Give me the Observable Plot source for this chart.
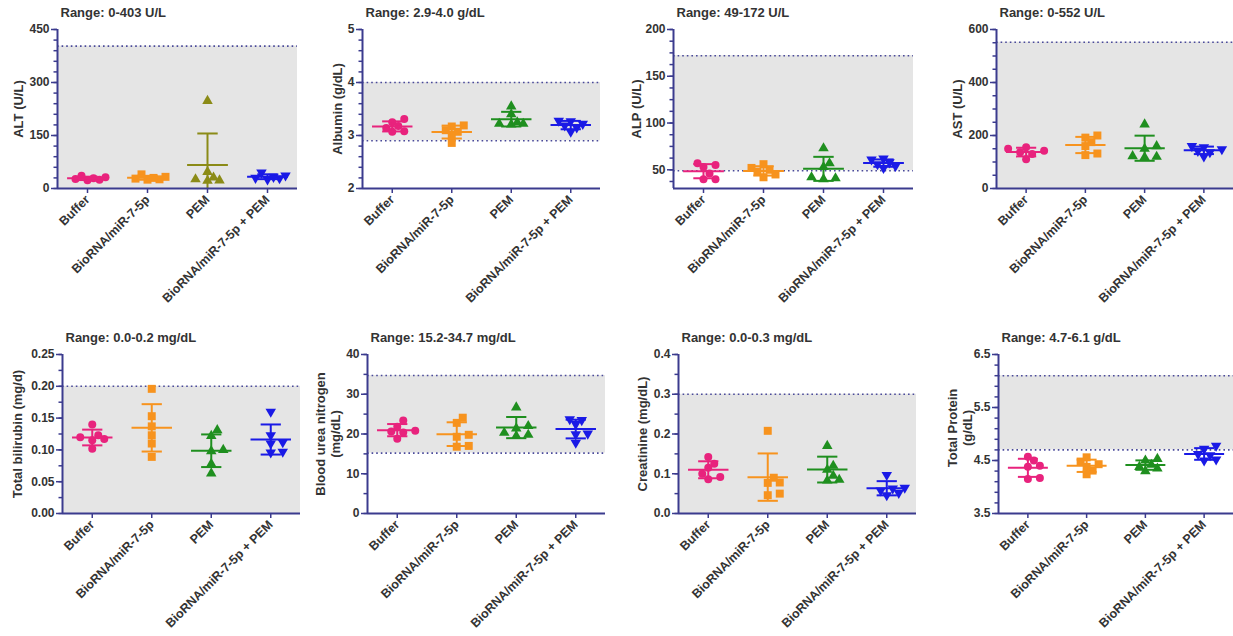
<!DOCTYPE html>
<html><head><meta charset="utf-8">
<script src="https://cdn.jsdelivr.net/npm/d3@7"></script>
<script src="https://cdn.jsdelivr.net/npm/@observablehq/plot@0.6"></script>
<style>
body{margin:0;background:#fff;font-family:"Liberation Sans",Arial,sans-serif;}
#root{position:relative;width:1233px;height:636px;overflow:hidden;background:#fff;}
.panel{position:absolute;}
.panel svg{overflow:visible;}
</style></head><body><div id="root"></div>
<script>
// ---------- data ----------
const groups = ["Buffer", "BioRNA/miR-7-5p", "PEM", "BioRNA/miR-7-5p + PEM"];

const altValues = [[36, 32, 29, 27, 25, 23], [40, 33, 30, 28, 26, 25], [248, 47, 31, 26, 23, 22], [45, 37, 33, 30, 29, 26]];
const albuminValues = [[3.31, 3.25, 3.18, 3.14, 3.08, 3.07], [3.19, 3.17, 3.10, 3.07, 3.00, 2.86], [3.55, 3.40, 3.25, 3.22, 3.21, 3.22], [3.28, 3.27, 3.22, 3.19, 3.15, 3.07]];
const alpValues = [[57, 55, 53, 46, 40, 40], [56, 52, 50, 48, 45, 42], [73, 57, 53, 42, 40, 41], [62, 61, 58, 56, 54, 52]];
const astValues = [[156, 150, 142, 137, 130, 110], [200, 192, 175, 160, 132, 126], [242, 160, 150, 120, 118, 122], [160, 156, 148, 142, 137, 121]];
const bilirubinValues = [[0.14, 0.123, 0.12, 0.117, 0.115, 0.102], [0.196, 0.153, 0.137, 0.123, 0.11, 0.089], [0.131, 0.122, 0.1, 0.098, 0.078, 0.063], [0.16, 0.123, 0.112, 0.11, 0.097, 0.096]];
const bunValues = [[23.4, 21.8, 20.8, 20.6, 20.4, 18.8], [24.1, 22.8, 19.8, 19.3, 17.0, 16.8], [26.7, 22, 21.4, 20.3, 19.8, 19.5], [23.7, 23.5, 22.5, 20.1, 19.9, 17.8]];
const creatinineValues = [[0.142, 0.125, 0.115, 0.1, 0.092, 0.086], [0.208, 0.09, 0.078, 0.077, 0.05, 0.046], [0.17, 0.12, 0.11, 0.095, 0.085, 0.083], [0.097, 0.065, 0.063, 0.058, 0.052, 0.046]];
const proteinValues = [[4.57, 4.5, 4.4, 4.38, 4.17, 4.15], [4.56, 4.48, 4.43, 4.38, 4.31, 4.24], [4.53, 4.5, 4.42, 4.38, 4.35, 4.3], [4.78, 4.72, 4.62, 4.6, 4.52, 4.5]];

const panelTitles = ["Range: 0-403 U/L", "Range: 2.9-4.0 g/dL", "Range: 49-172 U/L", "Range: 0-552 U/L",
  "Range: 0.0-0.2 mg/dL", "Range: 15.2-34.7 mg/dL", "Range: 0.0-0.3 mg/dL", "Range: 4.7-6.1 g/dL"];
const yLabels = ["ALT (U/L)", "Albumin (g/dL)", "ALP (U/L)", "AST (U/L)",
  "Total bilirubin (mg/d)", "Blood urea nitrogen\n(mg/dL)", "Creatinine (mg/dL)", "Total Protein\n(g/dL)"];
const normalLow = [0, 2.9, 49, 0, 0, 15.2, 0, 4.7];
const normalHigh = [403, 4.0, 172, 552, 0.2, 34.7, 0.3, 6.1];
const yDomains = [[0, 450], [2, 5], [30, 200], [0, 600], [0, 0.25], [0, 40], [0, 0.4], [3.5, 6.5]];
const majorTicks = [[0, 150, 300, 450], [2, 3, 4, 5], [50, 100, 150, 200], [0, 200, 400, 600],
  [0, 0.05, 0.10, 0.15, 0.20, 0.25], [0, 10, 20, 30, 40], [0, 0.1, 0.2, 0.3, 0.4], [3.5, 4.5, 5.5, 6.5]];
const minorSteps = [30, 0.2, 12.5, 50, 0.025, 5, 0.05, 0.2];
const tickFormats = ["d", "d", "d", "d", ".2f", "d", ".1f", ".1f"];
const allValues = [altValues, albuminValues, alpValues, astValues, bilirubinValues, bunValues, creatinineValues, proteinValues];

// ---------- styles / layout ----------
const groupColors = ["#e8237d", "#f7931e", "#1f8f1f", "#1a1ae6"];
const altPemColor = "#8b8b17";
const navy = "#3b3b8e";
const textColor = "#333";
const font = "Liberation Sans, Arial, sans-serif";

const layout = [
  {left: 0,   top: 0,   w: 310, h: 318, axisX: 57,  right: 297,  fTop: 29,  fBot: 188, lDx: -39, lDy: 0},
  {left: 310, top: 0,   w: 310, h: 318, axisX: 362, right: 600,  fTop: 29,  fBot: 188, lDx: -25, lDy: 0},
  {left: 620, top: 0,   w: 310, h: 318, axisX: 673, right: 913,  fTop: 29,  fBot: 188, lDx: -37, lDy: 0},
  {left: 930, top: 0,   w: 303, h: 318, axisX: 996, right: 1233, fTop: 29,  fBot: 188, lDx: -39, lDy: 0},
  {left: 0,   top: 318, w: 310, h: 318, axisX: 62,  right: 300,  fTop: 354, fBot: 513, lDx: -45, lDy: 0},
  {left: 310, top: 318, w: 310, h: 318, axisX: 367, right: 605,  fTop: 354, fBot: 513, lDx: -40, lDy: 0},
  {left: 620, top: 318, w: 310, h: 318, axisX: 678, right: 916,  fTop: 354, fBot: 513, lDx: -36, lDy: 0},
  {left: 930, top: 318, w: 303, h: 318, axisX: 998, right: 1233, fTop: 354, fBot: 513, lDx: -39, lDy: -6}
];

const triangleDown = {
  draw(context, size) {
    const y = Math.sqrt(size / (Math.sqrt(3) * 3));
    context.moveTo(0, y * 2);
    context.lineTo(-Math.sqrt(3) * y, -y);
    context.lineTo(Math.sqrt(3) * y, -y);
    context.closePath();
  }
};
const symbols = ["circle", "square", "triangle", triangleDown];
const symbolR = [4, 4.5, 3.9, 3.9];

// beeswarm-like horizontal spreading (pixels), limited to +/- maxK steps
function swarm(vals, pxY, diam, step, maxK) {
  const order = d3.range(vals.length).sort((a, b) => vals[a] - vals[b]);
  const placed = [];
  const off = new Array(vals.length).fill(0);
  for (const i of order) {
    const y = vals[i] * pxY;
    let best = 0, bestD = -1, done = false;
    for (let k = 0; k <= 2 * maxK; k++) {
      const dx = k === 0 ? 0 : (k % 2 ? 1 : -1) * Math.ceil(k / 2) * step;
      const dmin = placed.length ? d3.min(placed, p => Math.hypot(p.x - dx, p.y - y)) : Infinity;
      if (dmin >= diam) { off[i] = dx; done = true; break; }
      if (dmin > bestD) { bestD = dmin; best = dx; }
    }
    if (!done) off[i] = best;
    placed.push({x: off[i], y});
  }
  return off;
}

const root = document.getElementById("root");

allValues.forEach((values, p) => {
  const L = layout[p];
  const [y0, y1] = yDomains[p];
  const pxY = (L.fBot - L.fTop) / (y1 - y0);
  const pxCat = (L.right - L.axisX) / 4;
  const fmt = d3.format(tickFormats[p]);
  const step = minorSteps[p];
  const minors = [];
  const m0 = majorTicks[p][0];
  for (let v = m0; v <= y1 + 1e-9; v += step) minors.push(+v.toFixed(6));
  for (let v = m0 - step; v >= y0 - 1e-9; v -= step) minors.push(+v.toFixed(6));

  const marks = [];
  // normal range shading
  marks.push(Plot.rect([0], {x1: -0.5, x2: 3.5, y1: normalLow[p], y2: normalHigh[p], fill: "#e5e5e5"}));
  marks.push(Plot.ruleY([normalHigh[p]], {stroke: "#4a4a9a", strokeWidth: 1.6, strokeDasharray: "1.6 3"}));
  if (normalLow[p] > y0) marks.push(Plot.ruleY([normalLow[p]], {stroke: "#4a4a9a", strokeWidth: 1.6, strokeDasharray: "1.6 3"}));

  values.forEach((vals, g) => {
    const color = (p === 0 && g === 2) ? altPemColor : groupColors[g];
    const m = d3.mean(vals), s = d3.deviation(vals);
    const st = [{g, m, s}];
    const off = swarm(vals, pxY, 7, 6, 3);
    const pts = vals.map((v, i) => ({x: g + off[i] / pxCat, y: v}));
    marks.push(Plot.dot(pts, {x: "x", y: "y", fill: color, stroke: null, symbol: symbols[g], r: symbolR[g]}));
    marks.push(Plot.link(st, {x1: d => d.g, x2: d => d.g, y1: d => d.m - d.s, y2: d => d.m + d.s, stroke: color, strokeWidth: 2, clip: true}));
    marks.push(Plot.link(st, {x1: d => d.g - 0.17, x2: d => d.g + 0.17, y1: d => d.m + d.s, y2: d => d.m + d.s, stroke: color, strokeWidth: 2, clip: true}));
    marks.push(Plot.link(st, {x1: d => d.g - 0.17, x2: d => d.g + 0.17, y1: d => d.m - d.s, y2: d => d.m - d.s, stroke: color, strokeWidth: 2, clip: true}));
    marks.push(Plot.link(st, {x1: d => d.g - 0.34, x2: d => d.g + 0.34, y1: d => d.m, y2: d => d.m, stroke: color, strokeWidth: 2}));
  });

  // axes
  marks.push(Plot.axisY({ticks: minors, tickSize: 3.5, tickFormat: () => "", stroke: navy, strokeWidth: 1.5, label: null}));
  marks.push(Plot.axisY({ticks: majorTicks[p], tickSize: 6, tickPadding: 2, tickFormat: fmt, stroke: navy, strokeWidth: 1.5,
    fill: textColor, fontWeight: "bold", fontSize: 12, label: null}));
  marks.push(Plot.axisX({ticks: [0, 1, 2, 3], tickSize: 5, tickPadding: 4, tickFormat: i => groups[i], tickRotate: -45,
    stroke: navy, strokeWidth: 1.5, fill: textColor, fontWeight: "bold", fontSize: 12.5, label: null}));
  marks.push(Plot.ruleX([-0.5], {stroke: navy, strokeWidth: 2}));
  marks.push(Plot.ruleY([y0], {stroke: navy, strokeWidth: 2}));

  // titles
  marks.push(Plot.text([panelTitles[p]], {text: d => d, frameAnchor: "top-left", dx: 3, dy: -17, textAnchor: "start",
    lineAnchor: "middle", fontWeight: "bold", fontSize: 13, fill: textColor}));
  marks.push(Plot.text([yLabels[p]], {text: d => d, frameAnchor: "left", dx: L.lDx, dy: L.lDy, rotate: -90,
    textAnchor: "middle", lineAnchor: "middle", fontWeight: "bold", fontSize: 13, fill: textColor, lineHeight: 1.15}));

  const chart = Plot.plot({
    width: L.w, height: L.h,
    marginLeft: L.axisX - L.left, marginRight: L.left + L.w - L.right,
    marginTop: L.fTop - L.top, marginBottom: L.top + L.h - L.fBot,
    x: {domain: [-0.5, 3.5]},
    y: {domain: [y0, y1]},
    style: {fontFamily: font, background: "transparent", overflow: "visible"},
    marks
  });
  const div = document.createElement("div");
  div.className = "panel";
  div.style.left = L.left + "px";
  div.style.top = L.top + "px";
  div.appendChild(chart);
  root.appendChild(div);
});
</script>
</body></html>
